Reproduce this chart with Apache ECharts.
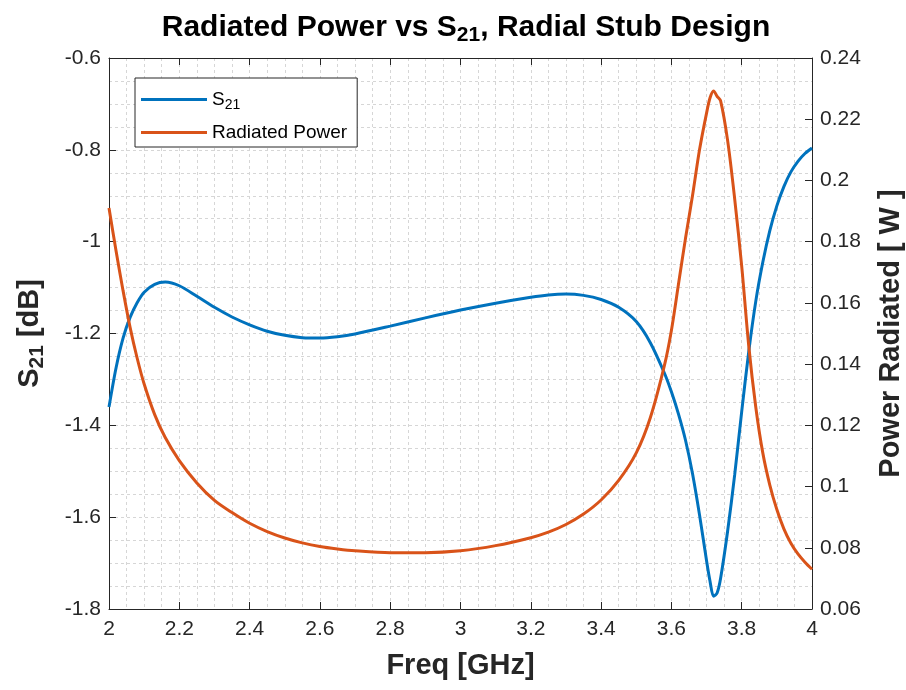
<!DOCTYPE html>
<html>
<head>
<meta charset="utf-8">
<script src="https://cdn.jsdelivr.net/npm/echarts@6/dist/echarts.min.js"></script>
<style>
  html, body { margin: 0; padding: 0; background: #fff; }
  #chart { width: 906px; height: 690px; }
</style>
</head>
<body>
<div id="chart"></div>
<script>
// Frequency sweep (GHz)
const freq = [
  2.00, 2.02, 2.04, 2.06, 2.08, 2.10, 2.13, 2.16, 2.20, 2.25,
  2.30, 2.35, 2.40, 2.45, 2.50, 2.55, 2.60, 2.65, 2.70, 2.80,
  2.90, 3.00, 3.10, 3.20, 3.25, 3.30, 3.35, 3.40, 3.45, 3.50,
  3.54, 3.58, 3.60, 3.62, 3.64, 3.66, 3.68, 3.70, 3.71, 3.72,
  3.73, 3.74, 3.76, 3.78, 3.80, 3.82, 3.84, 3.86, 3.88, 3.90,
  3.92, 3.94, 3.96, 3.98, 4.00
];

// Transmission S21 (dB)
const s21 = [
  -1.360, -1.275, -1.210, -1.165, -1.133, -1.110, -1.093, -1.088, -1.096, -1.119,
  -1.143, -1.164, -1.181, -1.195, -1.204, -1.209, -1.210, -1.207, -1.201, -1.184,
  -1.166, -1.149, -1.134, -1.121, -1.116, -1.114, -1.117, -1.126, -1.143, -1.174,
  -1.220, -1.286, -1.327, -1.375, -1.432, -1.505, -1.595, -1.695, -1.740, -1.772,
  -1.765, -1.733, -1.630, -1.508, -1.370, -1.240, -1.130, -1.045, -0.976, -0.922,
  -0.880, -0.848, -0.825, -0.808, -0.796
];

// Radiated power (W)
const radiatedPower = [
  0.191, 0.177, 0.164, 0.152, 0.142, 0.1335, 0.1235, 0.1160, 0.1085, 0.1012,
  0.0955, 0.0915, 0.0880, 0.0853, 0.0832, 0.0816, 0.0804, 0.0796, 0.0790, 0.0784,
  0.0784, 0.0790, 0.0807, 0.0833, 0.0851, 0.0876, 0.0910, 0.0956, 0.1020, 0.1110,
  0.1225, 0.1395, 0.1510, 0.1660, 0.1810, 0.1950, 0.2100, 0.2220, 0.2270, 0.2292,
  0.2275, 0.2260, 0.2130, 0.1940, 0.1720, 0.1460, 0.1260, 0.1110, 0.1005, 0.0925,
  0.0862, 0.0815, 0.0780, 0.0753, 0.0730
];

const freqTicks = { min: 2, max: 4, interval: 0.2 };
const s21Ticks = { min: -1.8, max: -0.6, interval: 0.2 };
const powerTicks = { min: 0.06, max: 0.24, interval: 0.02 };

const BLUE = '#0072BD';
const ORANGE = '#D95319';
const AXIS = '#262626';
const FONT = 'Liberation Sans, Arial, Helvetica, sans-serif';

const gridDash = { color: '#d6d6d6', width: 1, type: [3, 3] };

const chart = echarts.init(document.getElementById('chart'), null, { renderer: 'canvas' });

chart.setOption({
  backgroundColor: '#ffffff',
  animation: false,
  textStyle: { fontFamily: FONT },
  title: {
    text: '{t|Radiated Power vs S}{s|21}{t|, Radial Stub Design}',
    left: 461,
    textAlign: 'center',
    top: 4,
    textStyle: {
      rich: {
        t: { fontFamily: FONT, fontSize: 30, fontWeight: 'bold', color: '#000' },
        s: { fontFamily: FONT, fontSize: 21, fontWeight: 'bold', color: '#000', padding: [16, 0, 0, 0] }
      }
    }
  },
  legend: {
    orient: 'vertical',
    left: 135,
    top: 78,
    padding: [12, 10, 5, 6],
    itemGap: 11,
    itemWidth: 66,
    itemHeight: 3,
    icon: 'rect',
    borderColor: AXIS,
    borderWidth: 1,
    backgroundColor: '#fff',
    formatter: function (name) {
      return name === 'S21' ? '{n|S}{sub|21}' : '{n|' + name + '}';
    },
    textStyle: {
      rich: {
        n: { fontFamily: FONT, fontSize: 19, color: '#000' },
        sub: { fontFamily: FONT, fontSize: 14, color: '#000', padding: [11, 0, 0, 0] }
      }
    },
    data: ['S21', 'Radiated Power']
  },
  grid: { left: 109, right: 94, top: 58, bottom: 81, outerBoundsMode: 'none' },
  xAxis: [
    {
      type: 'value',
      min: freqTicks.min, max: freqTicks.max, interval: freqTicks.interval,
      name: 'Freq [GHz]',
      nameLocation: 'middle',
      nameGap: 42,
      nameTextStyle: { fontFamily: FONT, fontSize: 29, fontWeight: 'bold', color: AXIS },
      axisLine: { show: true, lineStyle: { color: AXIS, width: 1 } },
      axisTick: { show: true, inside: true, length: 7, lineStyle: { color: AXIS } },
      axisLabel: { fontFamily: FONT, fontSize: 21, color: AXIS, margin: 10 },
      splitLine: { show: true, lineStyle: gridDash },
      minorTick: { show: false, splitNumber: 4 },
      minorSplitLine: { show: true, lineStyle: gridDash }
    },
    {
      type: 'value',
      position: 'top',
      min: freqTicks.min, max: freqTicks.max, interval: freqTicks.interval,
      axisLine: { show: true, lineStyle: { color: AXIS, width: 1 } },
      axisTick: { show: true, inside: true, length: 7, lineStyle: { color: AXIS } },
      axisLabel: { show: false },
      splitLine: { show: false }
    }
  ],
  yAxis: [
    {
      type: 'value',
      position: 'left',
      min: s21Ticks.min, max: s21Ticks.max, interval: s21Ticks.interval,
      name: '{n|S}{sub|21}{n| [dB]}',
      nameLocation: 'middle',
      nameRotate: 90,
      nameGap: 61,
      nameTextStyle: {
        rich: {
          n: { fontFamily: FONT, fontSize: 29, fontWeight: 'bold', color: AXIS },
          sub: { fontFamily: FONT, fontSize: 21, fontWeight: 'bold', color: AXIS, padding: [16, 0, 0, 0] }
        }
      },
      axisLine: { show: true, lineStyle: { color: AXIS, width: 1 } },
      axisTick: { show: true, inside: true, length: 7, lineStyle: { color: AXIS } },
      axisLabel: { fontFamily: FONT, fontSize: 21, color: AXIS, margin: 8 },
      splitLine: { show: true, lineStyle: gridDash },
      minorTick: { show: false, splitNumber: 4 },
      minorSplitLine: { show: true, lineStyle: gridDash }
    },
    {
      type: 'value',
      position: 'right',
      alignTicks: false,
      min: powerTicks.min, max: powerTicks.max, interval: powerTicks.interval,
      name: 'Power Radiated [ W ]',
      nameLocation: 'middle',
      nameRotate: 90,
      nameGap: 64,
      nameTextStyle: { fontFamily: FONT, fontSize: 29, fontWeight: 'bold', color: AXIS },
      axisLine: { show: true, lineStyle: { color: AXIS, width: 1 } },
      axisTick: { show: true, inside: true, length: 7, lineStyle: { color: AXIS } },
      axisLabel: { fontFamily: FONT, fontSize: 21, color: AXIS, margin: 8 },
      splitLine: { show: false }
    }
  ],
  series: [
    {
      name: 'S21',
      type: 'line',
      xAxisIndex: 0,
      yAxisIndex: 0,
      showSymbol: false,
      smooth: 0.3,
      lineStyle: { color: BLUE, width: 3 },
      itemStyle: { color: BLUE },
      data: freq.map((f, i) => [f, s21[i]])
    },
    {
      name: 'Radiated Power',
      type: 'line',
      xAxisIndex: 0,
      yAxisIndex: 1,
      showSymbol: false,
      smooth: 0.3,
      lineStyle: { color: ORANGE, width: 3 },
      itemStyle: { color: ORANGE },
      data: freq.map((f, i) => [f, radiatedPower[i]])
    }
  ]
});
</script>
</body>
</html>
